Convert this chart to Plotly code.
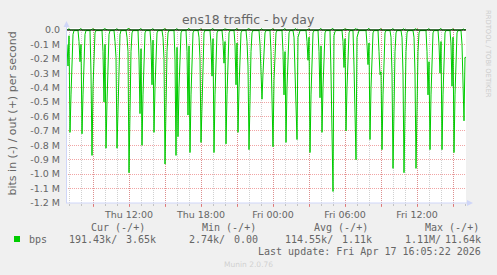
import pandas as pd
import plotly.graph_objects as go

# ---------------- data ----------------
sample_start = "2026-04-16 06:50"
n_samples = 400                      # 5-minute samples
in_baseline_M = -0.004               # quiet level of incoming traffic (M bit/s, negative = in)

# start index of each hourly burst and the consecutive sample values (M bit/s, in = negative)
spike_start = [0, 12, 24, 36, 48, 60, 72, 84, 96, 108, 120, 132, 144, 156, 168, 180, 193,
               204, 216, 227, 240, 252, 264, 276, 287, 300, 312, 324, 335, 347, 360, 372, 384, 395]
spike_vals = [
    [-0.10, -0.25, -0.04, -0.71, -0.45, -0.18, -0.03],
    [-0.08, -0.22, -0.10, -0.72, -0.45, -0.20, -0.03],
    [-0.30, -0.87, -0.40, -0.12, -0.02],
    [-0.15, -0.50, -0.10, -0.82, -0.50, -0.20, -0.03],
    [-0.08, -0.19, -0.82, -0.50, -0.20, -0.03],
    [-0.05, -0.15, -0.99, -0.50, -0.15, -0.02],
    [-0.20, -0.58, -0.13, -0.80, -0.45, -0.15, -0.02],
    [-0.10, -0.38, -0.07, -0.71, -0.40, -0.15, -0.02],
    [-0.05, -0.20, -0.93, -0.45, -0.15, -0.02],
    [-0.20, -0.87, -0.12, -0.74, -0.40, -0.15, -0.02],
    [-0.15, -0.59, -0.11, -0.85, -0.45, -0.15, -0.02],
    [-0.05, -0.20, -0.78, -0.45, -0.15, -0.02],
    [-0.10, -0.32, -0.06, -0.85, -0.45, -0.15, -0.02],
    [-0.08, -0.23, -0.08, -0.79, -0.45, -0.15, -0.02],
    [-0.10, -0.38, -0.09, -0.71, -0.40, -0.15, -0.02],
    [-0.08, -0.25, -0.83, -0.45, -0.15, -0.02],
    [-0.10, -0.30, -0.48, -0.30, -0.11, -0.02],
    [-0.15, -0.40, -0.81, -0.35, -0.10, -0.02],
    [-0.15, -0.45, -0.15, -0.78, -0.40, -0.15, -0.02],
    [-0.05, -0.25, -0.50, -0.76, -0.05, -0.02],
    [-0.08, -0.21, -0.05, -0.85, -0.45, -0.15, -0.02],
    [-0.15, -0.47, -0.11, -0.71, -0.40, -0.15, -0.02],
    [-0.30, -0.75, -1.12, -0.04, -0.01],
    [-0.08, -0.26, -0.06, -0.70, -0.40, -0.15, -0.02],
    [-0.25, -0.60, -0.90, -0.05, -0.02],
    [-0.10, -0.24, -0.09, -0.76, -0.40, -0.15, -0.02],
    [-0.15, -0.31, -0.29, -0.83, -0.45, -0.15, -0.02],
    [-0.05, -0.30, -0.96, -0.45, -0.15, -0.02],
    [-0.05, -0.30, -0.99, -0.45, -0.15, -0.02],
    [-0.05, -0.30, -0.96, -0.45, -0.15, -0.02],
    [-0.15, -0.45, -0.22, -0.83, -0.45, -0.15, -0.02],
    [-0.10, -0.30, -0.08, -0.83, -0.45, -0.15, -0.02],
    [-0.10, -0.39, -0.05, -0.85, -0.45, -0.15, -0.02],
    [-0.10, -0.35, -0.63, -0.19, -0.19],
]
# outgoing traffic bursts (k bit/s) at the same hours
out_burst_k = [[6, 8], [7, 9], [8, 6], [9, 7], [6, 8], [11.64, 8], [7, 9], [8, 7], [9, 6], [7, 8],
               [8, 10], [6, 7], [9, 8], [7, 6], [8, 9], [10, 7], [6, 8], [8, 7], [7, 9], [9, 8],
               [6, 7], [8, 9], [10, 8], [7, 6], [9, 7], [8, 10], [7, 8], [6, 9], [8, 7], [9, 6],
               [7, 8], [8, 9], [6, 7], [8, 3.65]]
out_last_k = 3.65

y_tickvals_M = [0.0, -0.1, -0.2, -0.3, -0.4, -0.5, -0.6, -0.7, -0.8, -0.9, -1.0, -1.1, -1.2]
y_ticktext = ["0.0", "-0.1 M", "-0.2 M", "-0.3 M", "-0.4 M", "-0.5 M", "-0.6 M", "-0.7 M",
              "-0.8 M", "-0.9 M", "-1.0 M", "-1.1 M", "-1.2 M"]
x_tickvals = ["2026-04-16 09:00", "2026-04-16 12:00", "2026-04-16 15:00", "2026-04-16 18:00",
              "2026-04-16 21:00", "2026-04-17 00:00", "2026-04-17 03:00", "2026-04-17 06:00",
              "2026-04-17 09:00", "2026-04-17 12:00", "2026-04-17 15:00"]
x_ticktext = ["", "Thu 12:00", "", "Thu 18:00", "", "Fri 00:00", "", "Fri 06:00", "",
              "Fri 12:00", ""]

legend_headers = ["Cur (-/+)", "Min (-/+)", "Avg (-/+)", "Max (-/+)"]
legend_in = ["191.43k/", "2.74k/", "114.55k/", "1.11M/"]
legend_out = ["3.65k", "0.00", "1.11k", "11.64k"]
last_update = "Last update: Fri Apr 17 16:05:22 2026"

# ---------------- build series ----------------
times = pd.date_range(sample_start, periods=n_samples, freq="5min")
in_M = [in_baseline_M] * n_samples
out_k = [0.0] * n_samples
for s, vals, ob in zip(spike_start, spike_vals, out_burst_k):
    for j, v in enumerate(vals):
        if s + j < n_samples:
            in_M[s + j] = v
    for j, v in enumerate(ob):
        if s + 1 + j < n_samples:
            out_k[s + 1 + j] = v
out_k[-1] = out_last_k
in_bits = [v * 1e6 for v in in_M]
out_bits = [v * 1e3 for v in out_k]

# ---------------- figure ----------------
GREEN = "#00CC00"
FONT_C = "#666666"
AXIS_C = "#CFD6F8"
L, W, T, H = 66, 400, 28, 175
BOT = T + H


def px(p):
    return (p - L) / W


def py(p):
    return (BOT - p) / H


fig = go.Figure()
fig.add_trace(go.Scatter(x=times, y=in_bits, mode="lines",
                         line=dict(color=GREEN, width=1), hoverinfo="skip"))
fig.add_trace(go.Scatter(x=times, y=out_bits, mode="lines",
                         line=dict(color=GREEN, width=1), hoverinfo="skip"))

tickfont = dict(family="DejaVu Sans", size=9.5, color=FONT_C)
fig.update_layout(
    width=497, height=275,
    margin=dict(l=L, r=497 - L - W, t=T, b=275 - BOT),
    paper_bgcolor="#F0F0F0", plot_bgcolor="#FFFFFF",
    showlegend=False,
    xaxis=dict(
        range=["2026-04-16 06:45", "2026-04-17 16:05"],
        tickvals=x_tickvals, ticktext=x_ticktext,
        showgrid=True, gridcolor="rgba(230,90,90,0.55)", griddash="1px,1px", gridwidth=1,
        ticks="outside", ticklen=3, tickcolor="rgba(230,90,90,0.7)",
        minor=dict(dtick=3600000, showgrid=True, gridcolor="rgba(150,150,150,0.45)",
                   griddash="1px,1px", ticks="outside", ticklen=2,
                   tickcolor="rgba(150,150,150,0.5)"),
        tickfont=tickfont, showline=False, zeroline=False, fixedrange=True,
    ),
    yaxis=dict(
        range=[-1.2e6, 13.9e3],
        tickvals=[v * 1e6 for v in y_tickvals_M], ticktext=y_ticktext,
        showgrid=True, gridcolor="rgba(230,90,90,0.55)", griddash="1px,1px", gridwidth=1,
        ticks="", ticklabelstandoff=5,
        tickfont=tickfont, showline=False, zeroline=False, fixedrange=True,
    ),
)

shapes = [
    # zero rule
    dict(type="line", xref="paper", yref="y", x0=0, x1=1, y0=0, y1=0,
         line=dict(color="#000000", width=1), layer="above"),
    # axes with arrows
    dict(type="line", xref="paper", yref="paper", x0=px(66.5), x1=px(66.5), y0=py(203), y1=py(26),
         line=dict(color=AXIS_C, width=1), layer="above"),
    dict(type="line", xref="paper", yref="paper", x0=px(66), x1=px(468), y0=py(203), y1=py(203),
         line=dict(color=AXIS_C, width=1), layer="above"),
    dict(type="path", xref="paper", yref="paper",
         path=f"M {px(63.5)},{py(27)} L {px(69.5)},{py(27)} L {px(66.5)},{py(21)} Z",
         fillcolor=AXIS_C, line=dict(width=0), layer="above"),
    dict(type="path", xref="paper", yref="paper",
         path=f"M {px(467)},{py(200)} L {px(467)},{py(206)} L {px(473)},{py(203)} Z",
         fillcolor=AXIS_C, line=dict(width=0), layer="above"),
    # legend swatch
    dict(type="rect", xref="paper", yref="paper", x0=px(14), x1=px(20), y0=py(242), y1=py(236),
         fillcolor=GREEN, line=dict(width=0)),
]
fig.update_layout(shapes=shapes)

ann = []


def text(s, x, y, anchor="left", size=10, family="DejaVu Sans Mono", color=FONT_C, angle=0):
    ann.append(dict(text=s, x=px(x), y=py(y), xref="paper", yref="paper", showarrow=False,
                    xanchor=anchor, yanchor="middle", textangle=angle,
                    font=dict(family=family, size=size, color=color)))


text("ens18 traffic - by day", 248, 19.5, anchor="center", size=12.4, family="DejaVu Sans")
text("bits in (-) / out (+) per second", 11.5, 114, anchor="center", size=11,
     family="DejaVu Sans", angle=-90)
text("RRDTOOL / TOBI OETIKER", 488, 54, anchor="center", size=6.8, family="DejaVu Sans",
     color="#CCCCCC", angle=90)

for h, x in zip(legend_headers, [89.3, 200.3, 311.7, 422.7]):
    text(h, x, 227.5)
text("bps", 26.7, 239)
for s, x in zip(legend_in, [66.7, 186.7, 283.3, 403.3]):
    text(s, x, 239)
for s, x in zip(legend_out, [157.7, 260, 374.3, 482.7]):
    text(s, x, 239, anchor="right")
text(last_update, 482.7, 251, anchor="right")
text("Munin 2.0.76", 248, 264, anchor="center", size=7.5, family="DejaVu Sans", color="#D0D0D0")

fig.update_layout(annotations=ann)
fig.write_html("out.html")
